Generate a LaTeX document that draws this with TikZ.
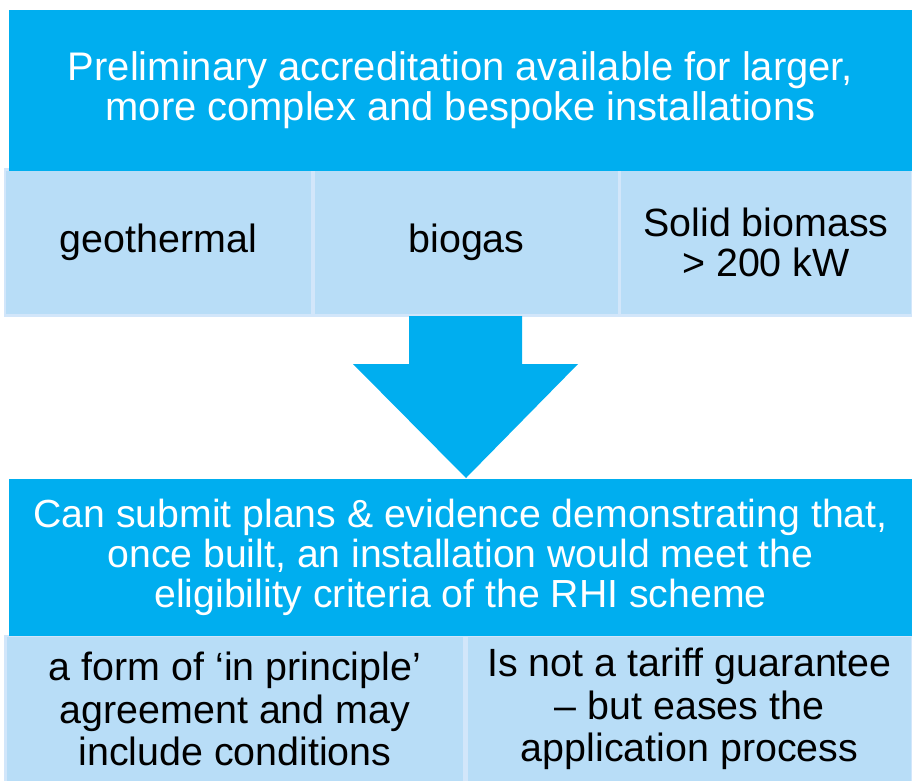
\documentclass[tikz,border=0pt]{standalone}
\usepackage{fontspec}
\setmainfont{Liberation Sans}
\usepackage{tikz}
\definecolor{hdblue}{RGB}{0,174,239}
\definecolor{subblue}{RGB}{184,221,247}
\definecolor{subedge}{RGB}{210,230,250}
\tikzset{
  header/.style={fill=hdblue, text=white, inner sep=0pt, align=center,
    font=\fontsize{39.2}{40}\selectfont},
  subbox/.style={fill=subblue, draw=subedge, line width=2.5pt, inner sep=0pt,
    align=center, font=\fontsize{39.4}{42.5}\selectfont}
}

\begin{document}
\begin{tikzpicture}[x=1pt,y=-1pt]
  \useasboundingbox (0,0) rectangle (912,780);
  % top row
  \node[subbox, minimum width=307pt, minimum height=146pt] (geo) at (158.5,242.5) {geothermal};
  \node[subbox, minimum width=305pt, minimum height=146pt] (bio) at (466.5,242.5) {biogas};
  \node[subbox, minimum width=292pt, minimum height=146pt] (solid) at (766,242.5) {Solid biomass\\[-2pt]{}> 200 kW};
  \node[header, minimum width=903pt, minimum height=161pt, font=\fontsize{39.9}{40}\selectfont] (prelim) at (460.5,90)
    {Preliminary accreditation available for larger,\\more complex and bespoke installations};
  % bottom row
  \node[subbox, minimum width=459pt, minimum height=146pt] (form) at (235,709) {a form of `in principle'\\agreement and may\\include conditions};
  \node[subbox, minimum width=445pt, minimum height=146pt] (tariff) at (689.5,709) {Is not a tariff guarantee\\– but eases the\\application process};
  \node[header, minimum width=903pt, minimum height=157pt] (submit) at (460.5,557.5)
    {Can submit plans \& evidence demonstrating that,\\once built, an installation would meet the\\eligibility criteria of the RHI scheme};
  % block arrow
  \coordinate (tip) at (466,478);
  \fill[hdblue] (409,316) -- (522,316) -- (522,364) -- (578,364) -- (tip)
    -- (353,364) -- (409,364) -- cycle;
\end{tikzpicture}
\end{document}
